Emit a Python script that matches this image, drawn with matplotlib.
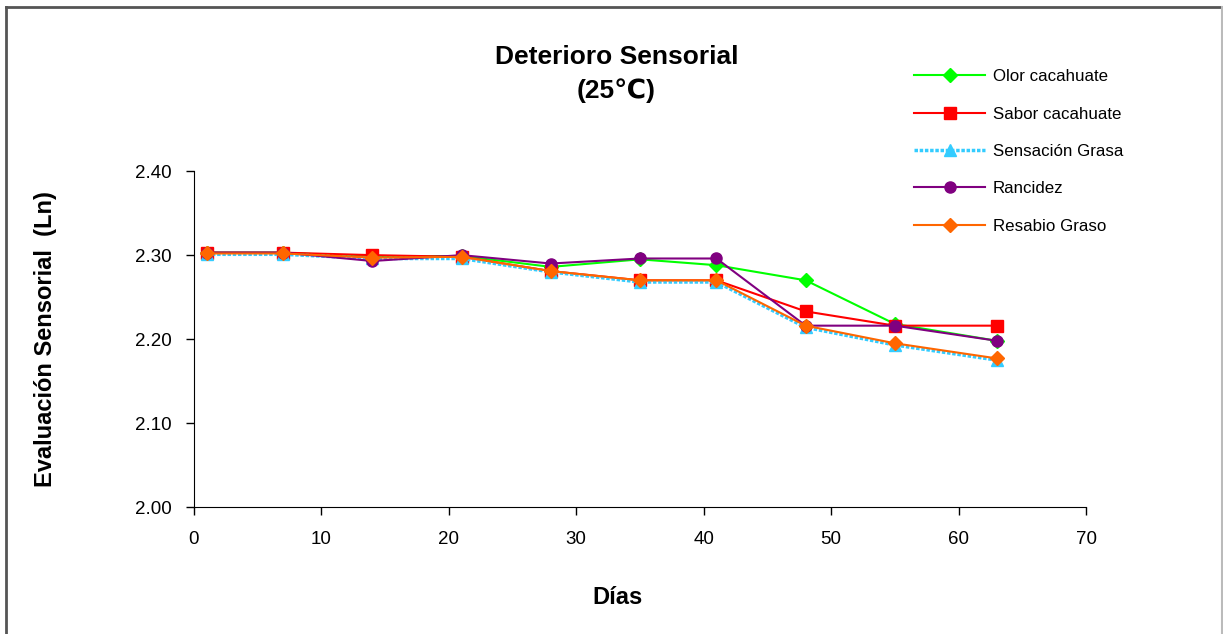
import matplotlib.pyplot as plt
from matplotlib.lines import Line2D

plt.rcParams['font.family'] = ['Liberation Sans', 'DejaVu Sans']

dias = [1, 7, 14, 21, 28, 35, 41, 48, 55, 63]

olor = [2.303, 2.303, 2.298, 2.299, 2.286, 2.295, 2.288, 2.270, 2.218, 2.198]
sabor = [2.303, 2.303, 2.300, 2.298, 2.281, 2.270, 2.270, 2.233, 2.216, 2.216]
sensacion = [2.301, 2.301, 2.296, 2.296, 2.280, 2.268, 2.268, 2.214, 2.193, 2.175]
rancidez = [2.303, 2.303, 2.293, 2.300, 2.290, 2.296, 2.296, 2.216, 2.216, 2.198]
resabio = [2.302, 2.302, 2.297, 2.298, 2.281, 2.270, 2.270, 2.216, 2.195, 2.177]

fig = plt.figure(figsize=(12.23, 6.34), dpi=100)
ax = fig.add_axes([0.1586, 0.2003, 0.7294, 0.5297])

ax.plot(dias, olor, color='#00ff00', marker='D', markersize=7, lw=1.5, label='Olor cacahuate')
ax.plot(dias, sabor, color='#ff0000', marker='s', markersize=8, lw=1.5, label='Sabor cacahuate')
ax.plot(dias, sensacion, color='#33ccff', marker='^', markersize=9, lw=2.5, ls=(0, (1, 0.5)),
        label='Sensación Grasa')
ax.plot(dias, rancidez, color='#800080', marker='o', markersize=8, lw=1.5, label='Rancidez')
ax.plot(dias, resabio, color='#ff6600', marker='D', markersize=7, lw=1.5, label='Resabio Graso')

ax.set_xlim(0, 70)
ax.set_ylim(2.0, 2.4)
ax.set_xticks(range(0, 71, 10))
ax.set_yticks([2.0, 2.1, 2.2, 2.3, 2.4])
ax.set_yticklabels(['2.00', '2.10', '2.20', '2.30', '2.40'])
ax.tick_params(labelsize=13.5, direction='out', length=6, width=1)
ax.tick_params(axis='x', pad=11)
ax.tick_params(axis='y', pad=10)
ax.spines['top'].set_visible(False)
ax.spines['right'].set_visible(False)

fig.text(0.5045, 0.0568, 'Días', ha='center', va='center', fontsize=17, fontweight='bold')
fig.text(0.0376, 0.465, 'Evaluación Sensorial  (Ln)', ha='center', va='center',
         rotation=90, fontsize=17, fontweight='bold')

fig.text(0.504, 0.883, 'Deterioro Sensorial\n(25℃)', ha='center', va='center',
         fontsize=19, fontweight='bold', linespacing=1.45)

fig.legend(loc='upper left', bbox_to_anchor=(0.735, 0.915), frameon=False, fontsize=12.2,
           labelspacing=1.32, handlelength=4.2, handletextpad=0.45)

# frame around the chart
fig.add_artist(Line2D([0.005, 0.9995], [0.989, 0.989], color='#555555', lw=2))
fig.add_artist(Line2D([0.005, 0.005], [0.0, 0.989], color='#555555', lw=2))
fig.add_artist(Line2D([0.9995, 0.9995], [0.0, 0.989], color='#bbbbbb', lw=1.5))

fig.savefig('out.png', dpi=100)
